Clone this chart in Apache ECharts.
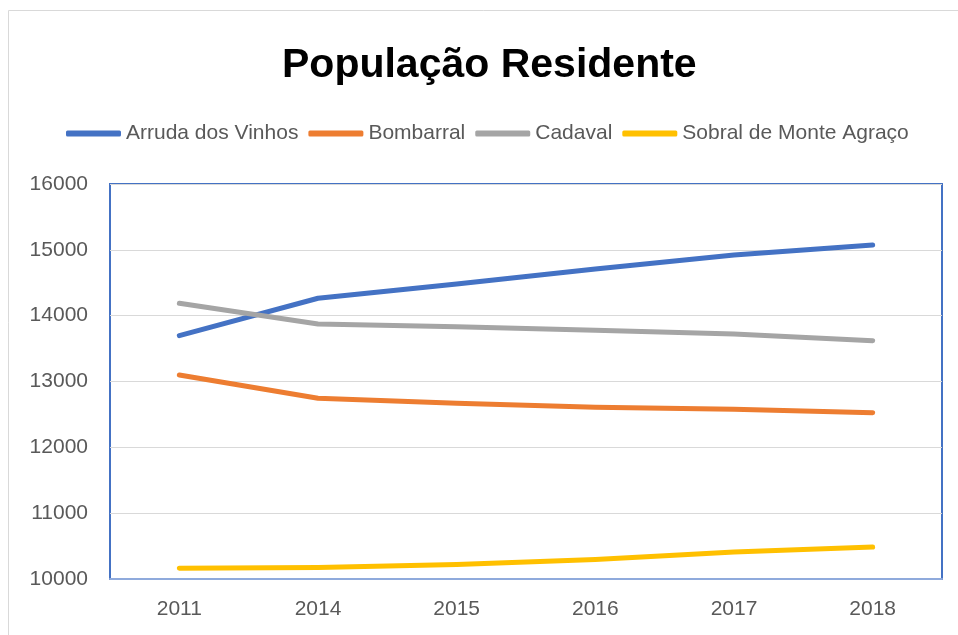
<!DOCTYPE html>
<html>
<head>
<meta charset="utf-8">
<script src="https://cdn.jsdelivr.net/npm/echarts@6/dist/echarts.min.js"></script>
<style>html,body{margin:0;padding:0;background:#fff}#c{width:958px;height:635px}</style>
</head>
<body>
<div id="c"></div>
<script>
var categories = ['2011', '2014', '2015', '2016', '2017', '2018'];
var arruda = [13696, 14264, 14480, 14710, 14920, 15074];
var bombarral = [13099, 12745, 12670, 12610, 12580, 12526];
var cadaval = [14188, 13874, 13830, 13780, 13720, 13620];
var sobral = [10162, 10175, 10220, 10295, 10410, 10486];
var seriesNames = ['Arruda dos Vinhos', 'Bombarral', 'Cadaval', 'Sobral de Monte Agraço'];
var colors = ['#4472C4', '#ED7D31', '#A5A5A5', '#FFC000'];
var yTicks = {min: 10000, max: 16000, interval: 1000};

var font = '"Liberation Sans", Arial, sans-serif';
var chart = echarts.init(document.getElementById('c'));
var dataSets = [arruda, bombarral, cadaval, sobral];
chart.setOption({
  animation: false,
  color: colors,
  title: {
    text: 'População Residente',
    left: 277, top: 40,
    textStyle: {fontFamily: font, fontSize: 41, fontWeight: 'bold', color: '#000'}
  },
  legend: {
    data: seriesNames,
    left: 61, top: 118,
    icon: 'roundRect',
    itemWidth: 55, itemHeight: 6, itemGap: 10,
    textStyle: {fontFamily: font, fontSize: 21, color: '#595959'}
  },
  grid: {
    left: 110, right: 16, top: 184, bottom: 56,
    show: true, borderColor: '#4472C4', borderWidth: 2, backgroundColor: 'transparent'
  },
  xAxis: {
    type: 'category', data: categories, boundaryGap: true,
    axisLine: {show: true, lineStyle: {color: '#8FAADC', width: 2}},
    axisTick: {show: false},
    axisLabel: {fontFamily: font, fontSize: 21, color: '#595959', margin: 20}
  },
  yAxis: {
    type: 'value', min: yTicks.min, max: yTicks.max, interval: yTicks.interval,
    axisLine: {show: false}, axisTick: {show: false},
    splitLine: {lineStyle: {color: '#D9D9D9', width: 1}},
    axisLabel: {fontFamily: font, fontSize: 21, color: '#595959', margin: 22,
      formatter: function (v) { return String(v); }}
  },
  graphic: [{
    type: 'polyline', silent: true,
    shape: {points: [[8.5, 635], [8.5, 10.5], [958, 10.5]]},
    style: {stroke: '#D9D9D9', lineWidth: 1, fill: null}
  }],
  series: dataSets.map(function (d, i) {
    return {
      name: seriesNames[i], type: 'line', data: d,
      symbol: 'none', smooth: false,
      lineStyle: {width: 5, color: colors[i], cap: 'round', join: 'round'}
    };
  })
});
</script>
</body>
</html>
